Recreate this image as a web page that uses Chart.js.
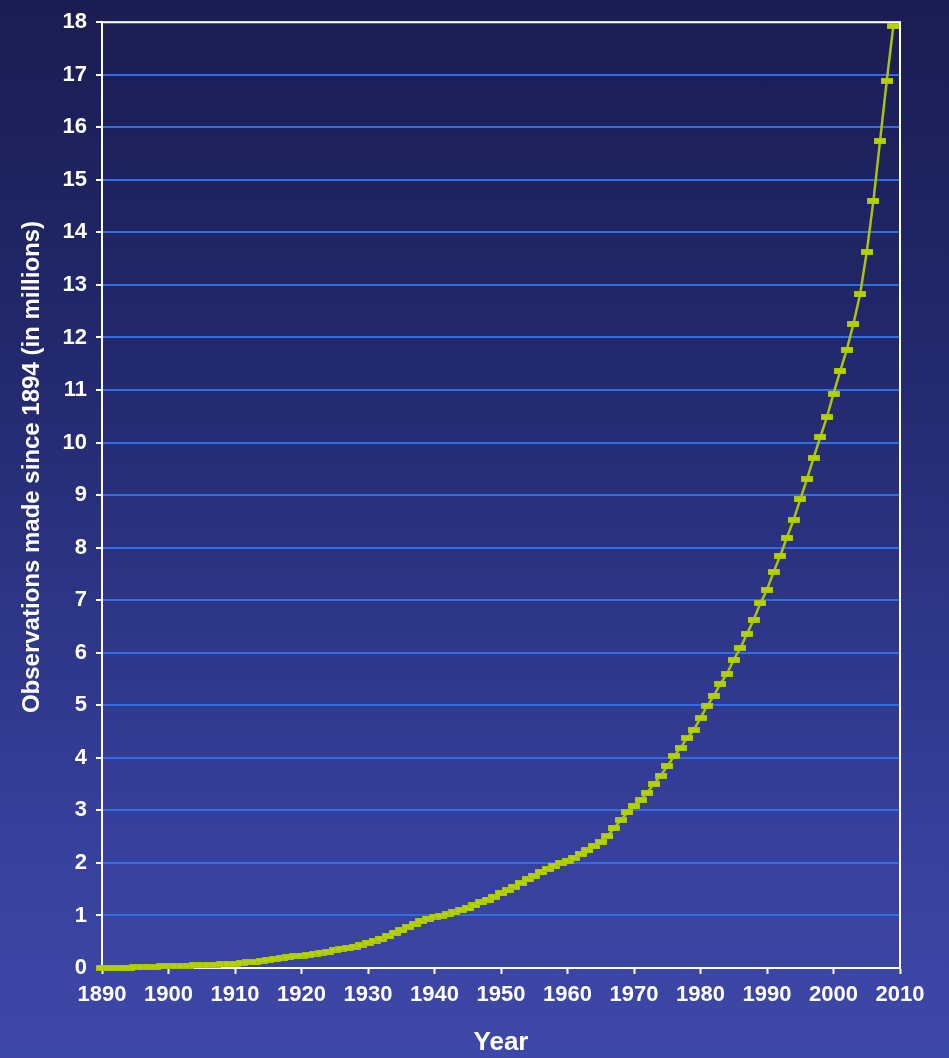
<!DOCTYPE html>
<html><head><meta charset="utf-8">
<script src="https://cdn.jsdelivr.net/npm/chart.js@4"></script>
<style>
html,body{margin:0;padding:0;}
body{width:949px;height:1058px;overflow:hidden;background:linear-gradient(to bottom,#1b1d52 0%,#212769 30%,#2c3483 55%,#37409c 80%,#3e48a8 100%);}
canvas{display:block;}
</style></head><body>
<canvas id="c" width="949" height="1058"></canvas>
<script>
const years = [1890,1891,1892,1893,1894,1895,1896,1897,1898,1899,
1900,1901,1902,1903,1904,1905,1906,1907,1908,1909,
1910,1911,1912,1913,1914,1915,1916,1917,1918,1919,
1920,1921,1922,1923,1924,1925,1926,1927,1928,1929,
1930,1931,1932,1933,1934,1935,1936,1937,1938,1939,
1940,1941,1942,1943,1944,1945,1946,1947,1948,1949,
1950,1951,1952,1953,1954,1955,1956,1957,1958,1959,
1960,1961,1962,1963,1964,1965,1966,1967,1968,1969,
1970,1971,1972,1973,1974,1975,1976,1977,1978,1979,
1980,1981,1982,1983,1984,1985,1986,1987,1988,1989,
1990,1991,1992,1993,1994,1995,1996,1997,1998,1999,
2000,2001,2002,2003,2004,2005,2006,2007,2008,2009];
const observations = [0,0,0,0,0.005,0.01,0.01,0.015,0.02,0.03,
0.035,0.04,0.04,0.045,0.05,0.05,0.055,0.06,0.07,0.075,
0.08,0.09,0.105,0.12,0.14,0.155,0.17,0.185,0.2,0.22,
0.235,0.25,0.27,0.29,0.31,0.335,0.36,0.38,0.405,0.44,
0.48,0.52,0.56,0.61,0.67,0.72,0.78,0.84,0.89,0.94,
0.97,0.99,1.02,1.06,1.10,1.14,1.19,1.25,1.30,1.36,
1.42,1.48,1.55,1.62,1.69,1.76,1.82,1.89,1.95,2.0,
2.04,2.10,2.17,2.24,2.32,2.40,2.51,2.66,2.81,2.96,
3.08,3.19,3.34,3.50,3.66,3.84,4.03,4.19,4.38,4.53,
4.76,4.99,5.18,5.41,5.60,5.87,6.09,6.36,6.63,6.94,
7.20,7.54,7.85,8.19,8.53,8.92,9.30,9.71,10.10,10.48,
10.93,11.36,11.77,12.26,12.82,13.63,14.60,15.74,16.88,17.93];
const xTickLabels = ['1890','1900','1910','1920','1930','1940','1950','1960','1970','1980','1990','2000','2010'];
const yTickLabels = ['0','1','2','3','4','5','6','7','8','9','10','11','12','13','14','15','16','17','18'];
const xTitle = 'Year';
const yTitle = 'Observations made since 1894 (in millions)';

const points = years.map((y, i) => ({x: y, y: observations[i]}));

const mk = document.createElement('canvas');
mk.width = 12; mk.height = 6;
const g = mk.getContext('2d');
g.fillStyle = '#9cb800'; g.fillRect(0, 0, 12, 6);
g.fillStyle = '#b4d200'; g.fillRect(0.5, 0.5, 11, 5);

const FONT = '"Liberation Sans", Arial, sans-serif';

const framePlugin = {
  id: 'frame',
  beforeDatasetsDraw(chart) {
    const a = chart.chartArea, ctx = chart.ctx;
    ctx.save();
    ctx.strokeStyle = '#ffffff';
    ctx.lineWidth = 2;
    ctx.beginPath();
    ctx.moveTo(a.left, a.top);
    ctx.lineTo(a.right, a.top);
    ctx.lineTo(a.right, a.bottom);
    ctx.stroke();
    ctx.restore();
  },
  afterDraw(chart) {
    const ctx = chart.ctx;
    ctx.save();
    ctx.translate(32, 467);
    ctx.rotate(-Math.PI / 2);
    ctx.fillStyle = '#ffffff';
    ctx.font = 'bold 24px ' + FONT;
    ctx.textAlign = 'center';
    ctx.textBaseline = 'middle';
    ctx.fillText(yTitle, 0, 0);
    ctx.restore();
  }
};

new Chart(document.getElementById('c'), {
  type: 'line',
  data: {
    datasets: [{
      data: points,
      borderColor: '#a8c410',
      borderWidth: 2.5,
      pointStyle: mk,
      pointRadius: 6,
      pointHoverRadius: 6,
      tension: 0,
      clip: false
    }]
  },
  options: {
    responsive: false,
    animation: false,
    events: [],
    layout: {padding: {top: 19, right: 49, left: 10, bottom: 0}},
    plugins: {legend: {display: false}, tooltip: {enabled: false}},
    scales: {
      x: {
        type: 'linear',
        min: 1890, max: 2010,
        afterFit(s) { s.height = 90; },
        ticks: {
          stepSize: 10,
          autoSkip: false,
          maxRotation: 0,
          color: '#ffffff',
          padding: 8,
          font: {family: FONT, size: 22, weight: 'bold'},
          callback: (v, i) => xTickLabels[i]
        },
        grid: {drawOnChartArea: false, drawTicks: true, tickLength: 6, tickColor: '#ffffff', tickWidth: 2},
        border: {color: '#ffffff', width: 2},
        title: {display: true, text: xTitle, color: '#ffffff', font: {family: FONT, size: 26, weight: 'bold'}, padding: {top: 0, bottom: 0}}
      },
      y: {
        min: 0, max: 18,
        afterFit(s) { s.width = 92; },
        ticks: {
          stepSize: 1,
          autoSkip: false,
          color: '#ffffff',
          padding: 9,
          font: {family: FONT, size: 22, weight: 'bold'},
          callback: (v, i) => yTickLabels[i]
        },
        grid: {color: '#2f6ee6', lineWidth: 2, drawTicks: true, tickLength: 6, tickColor: '#ffffff', tickWidth: 2},
        border: {color: '#ffffff', width: 2}
      }
    }
  },
  plugins: [framePlugin]
});
</script>
</body></html>
